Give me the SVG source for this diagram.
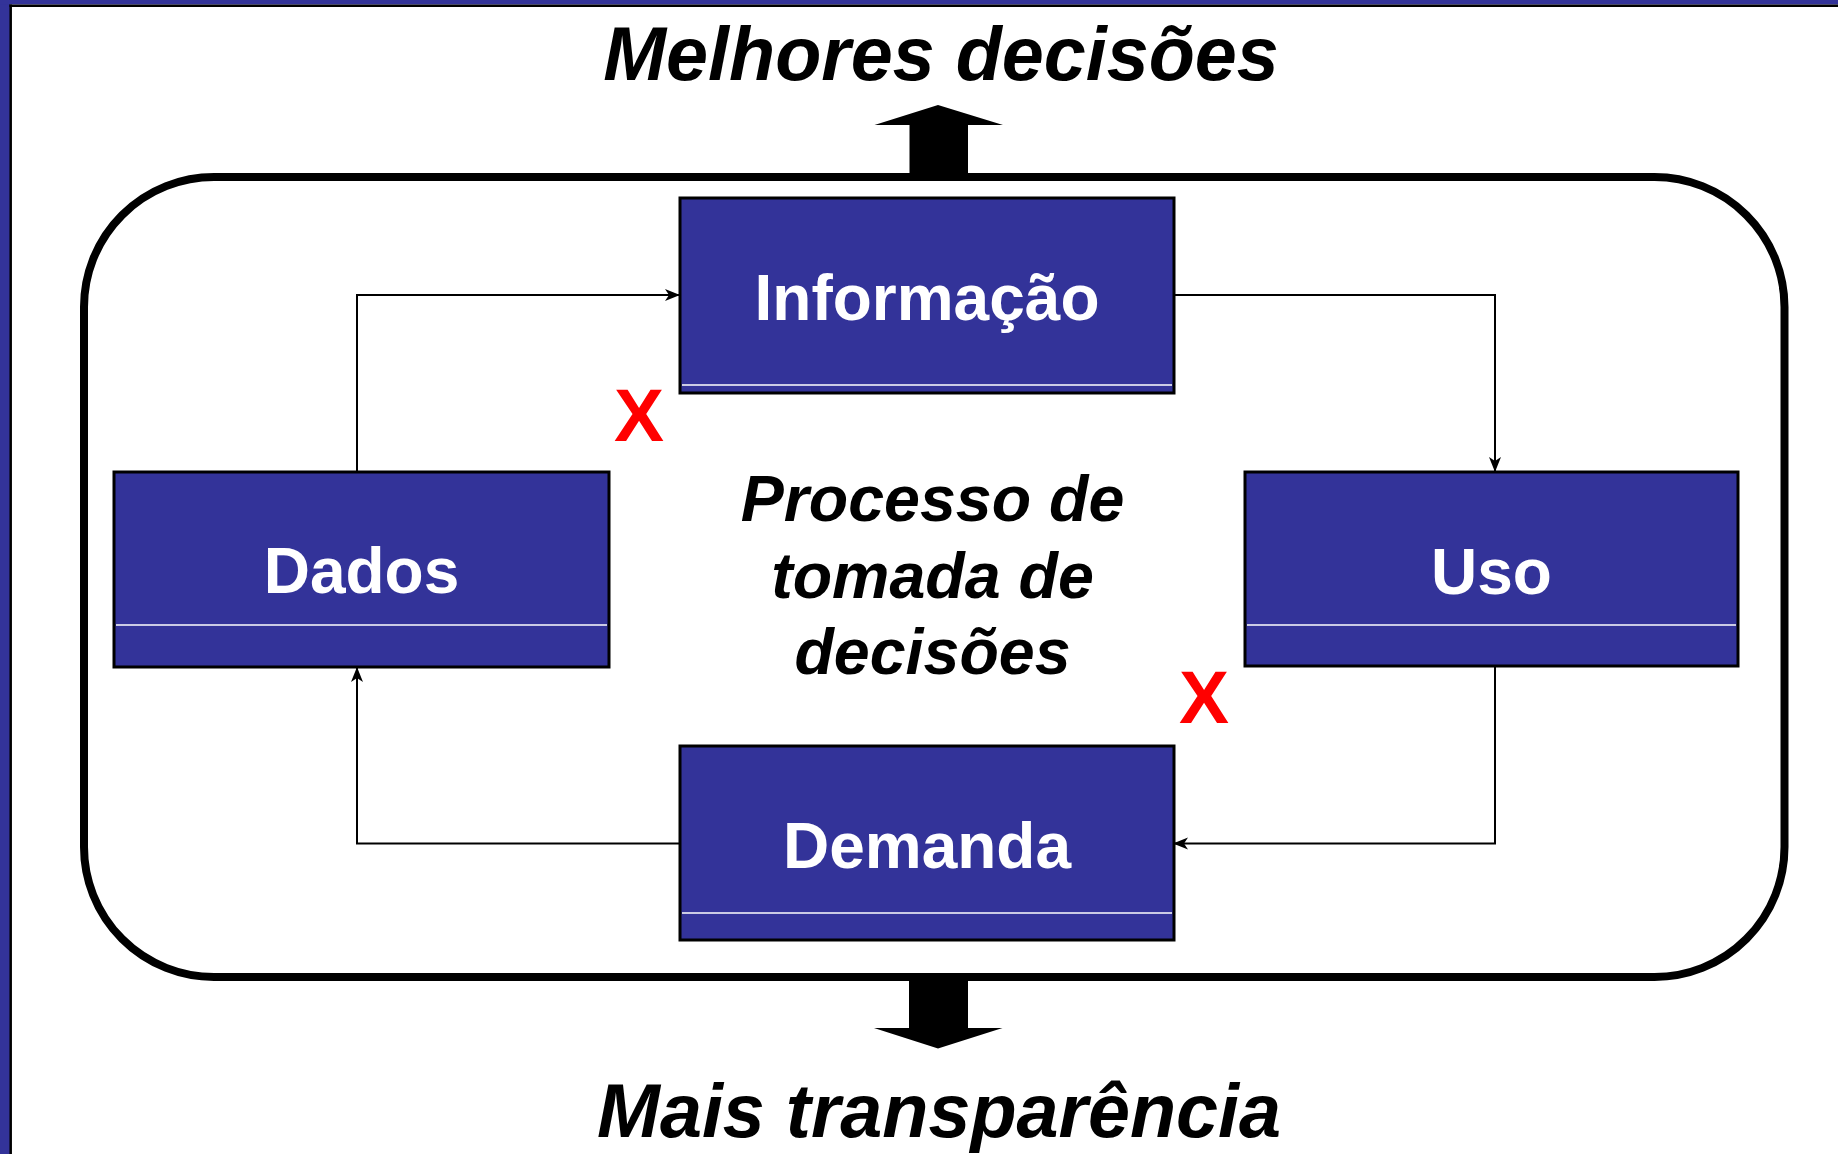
<svg xmlns="http://www.w3.org/2000/svg" width="1838" height="1154" viewBox="0 0 1838 1154">
<style>
.box{fill:#333399;stroke:#000;stroke-width:3}
.sep{stroke:#fff;stroke-width:1.5}
.lbl{font-family:"Liberation Sans",Arial,sans-serif;font-weight:bold;font-size:64px;fill:#fff;text-anchor:middle}
.title{font-family:"Liberation Sans",Arial,sans-serif;font-weight:bold;font-style:italic;font-size:75.5px;fill:#000;text-anchor:middle}
.center{font-family:"Liberation Sans",Arial,sans-serif;font-weight:bold;font-style:italic;font-size:64.5px;fill:#000;text-anchor:middle}
.x{font-family:"Liberation Sans",Arial,sans-serif;font-weight:bold;font-size:75px;fill:#ff0000;text-anchor:middle}
.conn{fill:none;stroke:#000;stroke-width:2}
</style>
<defs>
<marker id="arr" viewBox="0 0 16 14" refX="15" refY="7" markerWidth="16" markerHeight="14" markerUnits="userSpaceOnUse" orient="auto">
<path d="M0,1 L15,7 L0,13 L4,7 z" fill="#000"/>
</marker>
</defs>
<rect x="0" y="0" width="1838" height="1154" fill="#fff"/>
<g id="frame">
<rect x="0" y="0" width="10" height="1154" fill="#333399"/>
<rect x="0" y="0" width="1838" height="4.5" fill="#333399"/>
<line x1="10.7" y1="4.5" x2="10.7" y2="1154" stroke="#000" stroke-width="2.5"/>
<line x1="9.5" y1="5.7" x2="1838" y2="5.7" stroke="#000" stroke-width="2.5"/>
</g>
<g id="process">
<rect x="84" y="177" width="1700.5" height="800" rx="130" ry="130" fill="none" stroke="#000" stroke-width="8"/>
</g>
<g id="arrow-up">
<polygon points="909.5,175 909.5,125 874.5,125 938,105 1003,125 968,125 968,175" fill="#000"/>
</g>
<g id="arrow-down">
<polygon points="909,979 909,1028 874,1028 938,1048.5 1002.5,1028 968,1028 968,979" fill="#000"/>
</g>
<g id="title-top"><text class="title" x="941" y="80">Melhores decisões</text></g>
<g id="title-bottom"><text class="title" x="939" y="1137">Mais transparência</text></g>
<g id="connectors">
<polyline class="conn" points="357,472 357,295 680,295" marker-end="url(#arr)"/>
<polyline class="conn" points="1174,295 1495,295 1495,472" marker-end="url(#arr)"/>
<polyline class="conn" points="1495,666 1495,843.5 1173,843.5" marker-end="url(#arr)"/>
<polyline class="conn" points="680,843.5 357,843.5 357,667" marker-end="url(#arr)"/>
</g>
<g id="node-informacao">
<rect class="box" x="680" y="198" width="494" height="195"/>
<line class="sep" x1="682" y1="385" x2="1172" y2="385"/>
<text class="lbl" x="927" y="320">Informação</text>
</g>
<g id="node-dados">
<rect class="box" x="114" y="472" width="495" height="195"/>
<line class="sep" x1="116" y1="625" x2="607" y2="625"/>
<text class="lbl" x="361.5" y="593">Dados</text>
</g>
<g id="node-uso">
<rect class="box" x="1245" y="472" width="493" height="194"/>
<line class="sep" x1="1247" y1="625" x2="1736" y2="625"/>
<text class="lbl" x="1491.5" y="594">Uso</text>
</g>
<g id="node-demanda">
<rect class="box" x="680" y="746" width="494" height="194"/>
<line class="sep" x1="682" y1="913" x2="1172" y2="913"/>
<text class="lbl" x="927" y="868">Demanda</text>
</g>
<g id="center-label">
<text class="center" x="932.5" y="521">Processo de</text>
<text class="center" x="932.5" y="598">tomada de</text>
<text class="center" x="932.5" y="674">decisões</text>
</g>
<g id="marks">
<text class="x" x="639" y="441">X</text>
<text class="x" x="1204" y="723">X</text>
</g>
</svg>
